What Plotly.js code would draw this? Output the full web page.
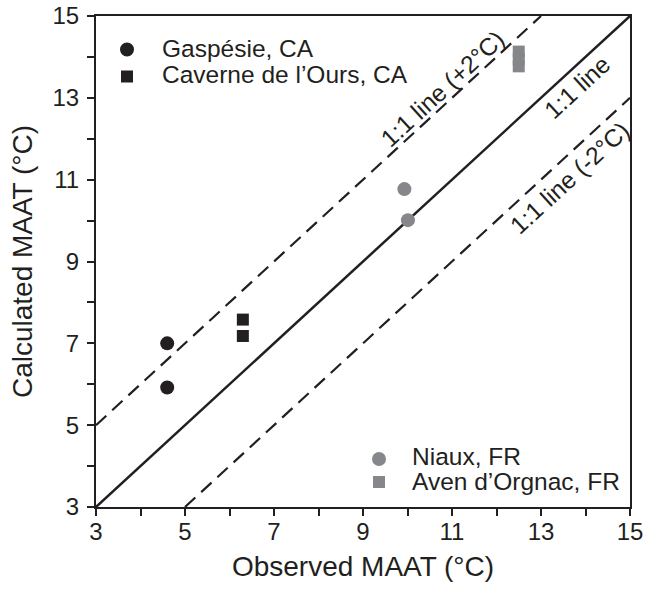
<!DOCTYPE html>
<html>
<head>
<meta charset="utf-8">
<script src="https://cdn.plot.ly/plotly-3.0.1.min.js"></script>
<style>html,body{margin:0;padding:0;background:#fff;}#chart{width:647px;height:590px;}</style>
</head>
<body>
<div id="chart"></div>
<script>
// ---- data ----
const seriesNames = ["Gaspésie, CA", "Caverne de l’Ours, CA", "Niaux, FR", "Aven d’Orgnac, FR"];
const gaspesieObs = [4.6, 4.6];
const gaspesieCalc = [7.0, 5.92];
const caverneObs = [6.3, 6.3];
const caverneCalc = [7.58, 7.18];
const niauxObs = [9.93, 10.01];
const niauxCalc = [10.77, 10.01];
const orgnacObs = [12.5, 12.5, 12.5];
const orgnacCalc = [14.13, 13.95, 13.77];

const oneToOneX = [3, 15];
const oneToOneY = [3, 15];
const plusTwoX = [3, 13];
const plusTwoY = [5, 15];
const minusTwoX = [5, 15];
const minusTwoY = [3, 13];

const tickVals = [3,4,5,6,7,8,9,10,11,12,13,14,15];
const tickText = ["3","","5","","7","","9","","11","","13","","15"];

const lineLabels = ["1:1 line (+2°C)", "1:1 line", "1:1 line (-2°C)"];

// ---- styles ----
const BLACK = "#231f20";
const GRAY = "#85878a";
const FONT = "Arial, 'Liberation Sans', Helvetica, sans-serif";

const traces = [
  {x: oneToOneX, y: oneToOneY, mode: "lines", line: {color: BLACK, width: 2.5}, showlegend: false, hoverinfo: "skip"},
  {x: plusTwoX, y: plusTwoY, mode: "lines", line: {color: BLACK, width: 2.2, dash: "14px,8px"}, showlegend: false, hoverinfo: "skip"},
  {x: minusTwoX, y: minusTwoY, mode: "lines", line: {color: BLACK, width: 2.2, dash: "14px,8px"}, showlegend: false, hoverinfo: "skip"},
  {x: gaspesieObs, y: gaspesieCalc, mode: "markers", name: seriesNames[0], marker: {symbol: "circle", size: 14, color: BLACK}, showlegend: false},
  {x: caverneObs, y: caverneCalc, mode: "markers", name: seriesNames[1], marker: {symbol: "square", size: 12, color: BLACK}, showlegend: false},
  {x: niauxObs, y: niauxCalc, mode: "markers", name: seriesNames[2], marker: {symbol: "circle", size: 14, color: GRAY}, showlegend: false},
  {x: orgnacObs, y: orgnacCalc, mode: "markers", name: seriesNames[3], marker: {symbol: "square", size: 12, color: GRAY}, showlegend: false}
];

const L = 96, R = 17, T = 16, B = 83, W = 647, H = 590;
const PW = W - L - R, PH = H - T - B;
const px = v => (v - L) / PW;
const py = v => (H - B - v) / PH;

const angle = -42.6;
const annotations = [
  {x: 10.80, y: 13.22, text: lineLabels[0], textangle: angle},
  {x: 13.81, y: 13.25, text: lineLabels[1], textangle: angle},
  {x: 13.63, y: 11.04, text: lineLabels[2], textangle: angle}
].map(a => Object.assign(a, {xref: "x", yref: "y", showarrow: false, xanchor: "center", yanchor: "middle",
  font: {family: FONT, size: 24.5, color: BLACK}}));

const legendItems = [
  {name: seriesNames[0], sym: "circle", color: BLACK, mx: 127, my: 49.5, tx: 160, ty: 48},
  {name: seriesNames[1], sym: "square", color: BLACK, mx: 127, my: 76.5, tx: 160, ty: 74},
  {name: seriesNames[2], sym: "circle", color: GRAY, mx: 379, my: 459, tx: 410, ty: 457},
  {name: seriesNames[3], sym: "square", color: GRAY, mx: 379, my: 482, tx: 410, ty: 481}
];
const shapes = [];
legendItems.forEach(it => {
  annotations.push({xref: "paper", yref: "paper", x: px(it.tx), y: py(it.ty), text: it.name, showarrow: false,
    xanchor: "left", yanchor: "middle", font: {family: FONT, size: 24.5, color: BLACK}});
  const h = it.sym === "circle" ? 7 : 6;
  shapes.push({type: it.sym === "circle" ? "circle" : "rect", xref: "paper", yref: "paper",
    xsizemode: "pixel", ysizemode: "pixel", xanchor: px(it.mx), yanchor: py(it.my),
    x0: -h, x1: h, y0: -h, y1: h, fillcolor: it.color, line: {width: 0}});
});

const axisCommon = {
  range: [3, 15], tickmode: "array", tickvals: tickVals, ticktext: tickText,
  ticks: "outside", ticklen: 7, tickwidth: 2, tickcolor: BLACK,
  showline: true, linecolor: BLACK, linewidth: 2, mirror: true,
  showgrid: false, zeroline: false, automargin: false,
  tickfont: {family: FONT, size: 24, color: BLACK}
};

const layout = {
  width: W, height: H,
  margin: {l: L, r: R, t: T, b: B},
  paper_bgcolor: "#fff", plot_bgcolor: "#fff",
  showlegend: false,
  xaxis: Object.assign({}, axisCommon, {ticklabelstandoff: -5,
    title: {text: "Observed MAAT (°C)", font: {family: FONT, size: 28, color: BLACK}, standoff: 13}}),
  yaxis: Object.assign({}, axisCommon, {ticklabelstandoff: 3,
    title: {text: "Calculated MAAT (°C)", font: {family: FONT, size: 28, color: BLACK}, standoff: 12}}),
  annotations: annotations,
  shapes: shapes
};

Plotly.newPlot("chart", traces, layout, {staticPlot: true, displayModeBar: false});
</script>
</body>
</html>
